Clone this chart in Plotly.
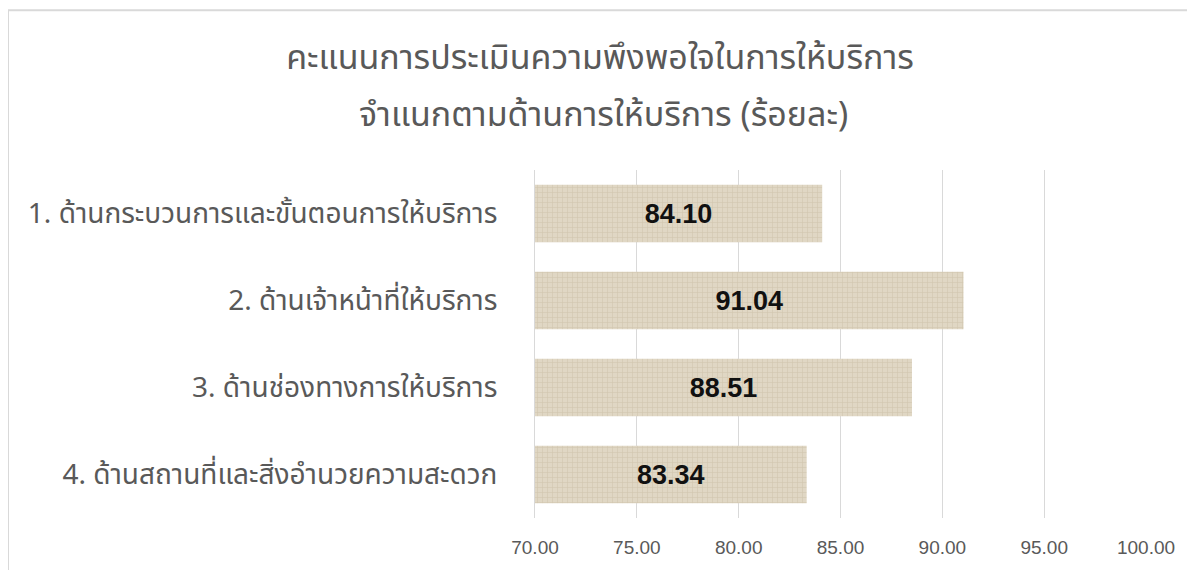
import plotly.graph_objects as go

categories = [
    "1. ด้านกระบวนการและขั้นตอนการให้บริการ",
    "2. ด้านเจ้าหน้าที่ให้บริการ",
    "3. ด้านช่องทางการให้บริการ",
    "4. ด้านสถานที่และสิ่งอำนวยความสะดวก",
]
values = [84.10, 91.04, 88.51, 83.34]
value_labels = ["84.10", "91.04", "88.51", "83.34"]
tick_values = [70, 75, 80, 85, 90, 95, 100]
tick_labels = ["70.00", "75.00", "80.00", "85.00", "90.00", "95.00", "100.00"]
title_line1 = "คะแนนการประเมินความพึงพอใจในการให้บริการ"
title_line2 = "จำแนกตามด้านการให้บริการ (ร้อยละ)"
axis_min = 70
axis_max = 100

THAI = "Noto Sans Thai, Leelawadee UI, Tahoma, Noto Sans, sans-serif"
GREY = "#595959"

# page has an 8px offset; layout numbers below are in reference-pixel terms
OFF = 8
W, H = 1195 - OFF, 570 - OFF
L, R, T, B = 535 - OFF, 49, 170 - OFF, 55 - OFF
PW, PH = W - L - R, H - T - B

def px_to_paper_x(px):
    return (px - OFF - L) / PW

def px_to_paper_y(py):
    return 1 + (T - (py - OFF)) / PH

fig = go.Figure(
    go.Bar(
        x=[v - axis_min for v in values],
        y=categories,
        base=axis_min,
        orientation="h",
        text=value_labels,
        textposition="inside",
        insidetextanchor="middle",
        textfont=dict(family="Liberation Sans, Arial, sans-serif", size=27,
                      color="#111111", weight="bold"),
        marker=dict(
            color="#c4b89e",
            line=dict(width=0),
            pattern=dict(shape="+", size=5, solidity=0.25,
                         fgcolor="#c4b89e", bgcolor="#e0d7c4"),
        ),
        width=0.66,
        hoverinfo="skip",
    )
)

fig.update_layout(
    width=W,
    height=H,
    paper_bgcolor="white",
    plot_bgcolor="white",
    margin=dict(l=L, r=R, t=T, b=B),
    showlegend=False,
    title=dict(
        text=title_line1,
        x=(600 - OFF) / W,
        xanchor="center",
        y=1 - (57 - OFF) / H,
        yanchor="middle",
        font=dict(family=THAI, size=34, color=GREY),
    ),
    annotations=[
        dict(
            text=title_line2,
            xref="paper", yref="paper",
            x=px_to_paper_x(603), y=px_to_paper_y(115),
            xanchor="center", yanchor="middle",
            showarrow=False,
            font=dict(family=THAI, size=34, color=GREY),
        )
    ],
    shapes=[
        dict(
            type="rect", xref="paper", yref="paper",
            x0=px_to_paper_x(8), x1=px_to_paper_x(1300),
            y0=px_to_paper_y(650), y1=px_to_paper_y(8),
            line=dict(color="#d9d9d9", width=2),
            fillcolor="rgba(0,0,0,0)",
            layer="below",
        )
    ],
)

fig.update_xaxes(
    range=[axis_min, axis_max],
    tickvals=tick_values,
    ticktext=tick_labels,
    showgrid=True,
    gridcolor="#d9d9d9",
    gridwidth=1,
    zeroline=False,
    showline=False,
    ticks="",
    ticklabelstandoff=16,
    tickfont=dict(family="Liberation Sans, Arial, sans-serif", size=19, color=GREY),
    fixedrange=True,
)
fig.update_yaxes(
    autorange="reversed",
    showgrid=False,
    showline=True,
    linecolor="#d9d9d9",
    linewidth=1,
    ticks="",
    ticklabelstandoff=31,
    tickfont=dict(family=THAI, size=28, color=GREY),
    fixedrange=True,
)

fig.write_html("out.html")
